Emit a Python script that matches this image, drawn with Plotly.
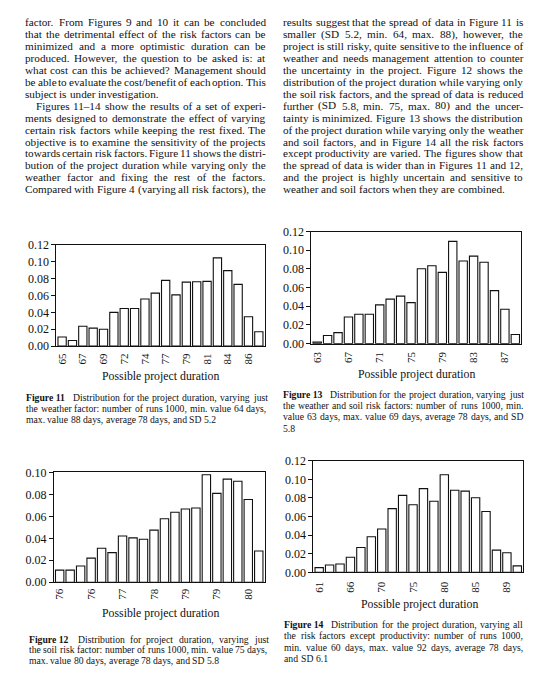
import plotly.graph_objects as go

W, H = 543, 688

# ---------------- data (read from the page) ----------------
fig11_labels = ["65", "67", "69", "72", "74", "77", "79", "81", "84", "86"]
fig11_values = [0.0108, 0.0066, 0.0236, 0.0213, 0.0200, 0.0400, 0.0445, 0.0445, 0.0557, 0.0627,
                0.0778, 0.0607, 0.0758, 0.0762, 0.0766, 0.1045, 0.0894, 0.0731, 0.0348, 0.0170]

fig12_labels = ["76", "76", "77", "78", "79", "79", "80"]
fig12_values = [0.0110, 0.0110, 0.0148, 0.0220, 0.0309, 0.0270, 0.0421, 0.0404, 0.0392, 0.0475,
                0.0579, 0.0638, 0.0668, 0.0677, 0.0980, 0.0810, 0.0940, 0.0920, 0.0754, 0.0285]

fig13_labels = ["63", "67", "71", "75", "79", "83", "87"]
fig13_values = [0.0017, 0.0087, 0.0118, 0.0286, 0.0314, 0.0314, 0.0415, 0.0477, 0.0509, 0.0439,
                0.0801, 0.0833, 0.0763, 0.1094, 0.0885, 0.0937, 0.0871, 0.0568, 0.0369, 0.0098]

fig14_labels = ["61", "66", "70", "75", "80", "85", "89"]
fig14_values = [0.0052, 0.0080, 0.0090, 0.0163, 0.0268, 0.0383, 0.0466, 0.0685, 0.0828, 0.0727,
                0.0900, 0.0765, 0.1050, 0.0883, 0.0873, 0.0803, 0.0654, 0.0240, 0.0212, 0.0070]

axis_title = "Possible project duration"

left_column = [
    "factor. From Figures 9 and 10 it can be concluded",
    "that the detrimental effect of the risk factors can be",
    "minimized and a more optimistic duration can be",
    "produced. However, the question to be asked is: at",
    "what cost can this be achieved? Management should",
    "be able to evaluate the cost/benefit of each option. This",
    "subject is under investigation.",
    "Figures 11\u201314 show the results of a set of experi-",
    "ments designed to demonstrate the effect of varying",
    "certain risk factors while keeping the rest fixed. The",
    "objective is to examine the sensitivity of the projects",
    "towards certain risk factors. Figure 11 shows the distri-",
    "bution of the project duration while varying only the",
    "weather factor and fixing the rest of the factors.",
    "Compared with Figure 4 (varying all risk factors), the",
]
right_column = [
    "results suggest that the spread of data in Figure 11 is",
    "smaller (SD 5.2, min. 64, max. 88), however, the",
    "project is still risky, quite sensitive to the influence of",
    "weather and needs management attention to counter",
    "the uncertainty in the project. Figure 12 shows the",
    "distribution of the project duration while varying only",
    "the soil risk factors, and the spread of data is reduced",
    "further (SD 5.8, min. 75, max. 80) and the uncer-",
    "tainty is minimized. Figure 13 shows the distribution",
    "of the project duration while varying only the weather",
    "and soil factors, and in Figure 14 all the risk factors",
    "except productivity are varied. The figures show that",
    "the spread of data is wider than in Figures 11 and 12,",
    "and the project is highly uncertain and sensitive to",
    "weather and soil factors when they are combined.",
]

caption11 = ["Figure 11", "Distribution for the project duration, varying just",
             "the weather factor: number of runs 1000, min. value 64 days,",
             "max. value 88 days, average 78 days, and SD 5.2"]
caption12 = ["Figure 12", "Distribution for project duration, varying just",
             "the soil risk factor: number of runs 1000, min. value 75 days,",
             "max. value 80 days, average 78 days, and SD 5.8"]
caption13 = ["Figure 13", "Distribution for the project duration, varying just",
             "the weather and soil risk factors: number of runs 1000, min.",
             "value 63 days, max. value 69 days, average 78 days, and SD",
             "5.8"]
caption14 = ["Figure 14", "Distribution for the project duration, varying all",
             "the risk factors except productivity: number of runs 1000,",
             "min. value 60 days, max. value 92 days, average 78 days,",
             "and SD 6.1"]

# ---------------- styling helpers ----------------
SERIF = "Liberation Serif, Times New Roman, Times, serif"
INK = "#111111"

TIMES = {' ': 250, '!': 333, '"': 408, '(': 333, ')': 333, ',': 250, '-': 333, '.': 250, '/': 278,
         ':': 278, ';': 278, '?': 444, '\u2013': 500,
         'A': 722, 'B': 667, 'C': 667, 'D': 722, 'E': 611, 'F': 556, 'G': 722, 'H': 722, 'I': 333,
         'J': 389, 'K': 722, 'L': 611, 'M': 889, 'N': 722, 'O': 722, 'P': 556, 'Q': 722, 'R': 667,
         'S': 556, 'T': 611, 'U': 722, 'V': 722, 'W': 944, 'X': 722, 'Y': 722, 'Z': 611,
         'a': 444, 'b': 500, 'c': 444, 'd': 500, 'e': 444, 'f': 333, 'g': 500, 'h': 500, 'i': 278,
         'j': 278, 'k': 500, 'l': 278, 'm': 778, 'n': 500, 'o': 500, 'p': 500, 'q': 500, 'r': 333,
         's': 389, 't': 278, 'u': 500, 'v': 500, 'w': 722, 'x': 500, 'y': 500, 'z': 444}
TIMES_BOLD = {' ': 250, 'F': 611, 'i': 278, 'g': 500, 'u': 556, 'r': 444, 'e': 444}


def text_width(s, size, bold=False):
    tot = 0
    for ch in s:
        if bold and ch in TIMES_BOLD:
            tot += TIMES_BOLD[ch]
        else:
            tot += TIMES.get(ch, 500)
    return tot * size / 1000.0


annotations = []


def add_word(txt, x, y, size):
    annotations.append(dict(text=txt, x=x / W, y=1 - y / H, xref="paper", yref="paper",
                            xanchor="left", yanchor="middle", showarrow=False, borderpad=0,
                            font=dict(family=SERIF, size=size, color=INK)))


def place_line(line, x0, x1, y, size, justify=True, bold_head=None, head_gap=0.0):
    tokens = []
    if bold_head:
        tokens.append(("<b>" + bold_head + "</b>", text_width(bold_head, size, True) + head_gap))
    for w in line.split(" "):
        tokens.append((w, text_width(w, size)))
    total = sum(t[1] for t in tokens)
    if justify and len(tokens) > 1:
        gap = (x1 - x0 - total) / (len(tokens) - 1)
    else:
        gap = size * 0.25
    x = x0
    for txt, wd in tokens:
        add_word(txt, x, y, size)
        x += wd + gap


def place_paragraphs(lines, x0, x1, y0, dy, size, indent_lines=(), last_lines=()):
    for i, ln in enumerate(lines):
        xs = x0 + (11 if i in indent_lines else 0)
        place_line(ln, xs, x1, y0 + i * dy, size, justify=(i not in last_lines))


def place_caption(cap, x0, x1, y0, dy, size):
    head, rest = cap[0], cap[1:]
    n = len(rest)
    for i, ln in enumerate(rest):
        last = (i == n - 1)
        if i == 0:
            place_line(ln, x0, x1, y0, size, justify=True, bold_head=head, head_gap=4)
        else:
            place_line(ln, x0, x1, y0 + i * dy, size, justify=not last)


# body text
place_paragraphs(left_column, 15, 256, 7.5, 12.17, 11.2, indent_lines=(7,), last_lines=(6,))
place_paragraphs(right_column, 273.5, 514, 7.5, 12.17, 11.2, last_lines=(14,))

# captions
CAP = 9.7
place_caption(caption11, 16, 257, 390, 11.6, CAP)
place_caption(caption13, 273.5, 514, 387, 11.6, CAP)
place_caption(caption12, 19, 258, 637, 11.0, CAP)
place_caption(caption14, 275, 514, 622, 11.6, CAP)

# ---------------- charts ----------------
panels = [
    dict(values=fig11_values, labels=fig11_labels, step=2, ymax=0.12,
         box=(47.5, 256, 234.5, 338), title=(152, 369), standoff=2),
    dict(values=fig13_values, labels=fig13_labels, step=3, ymax=0.12,
         box=(303, 513, 221, 335.5), title=(408, 366.5), standoff=3),
    dict(values=fig12_values, labels=fig12_labels, step=3, ymax=0.10,
         box=(45, 256, 467, 579), title=(152, 610), standoff=1),
    dict(values=fig14_values, labels=fig14_labels, step=3, ymax=0.12,
         box=(305, 515, 455, 569), title=(411, 601), standoff=4),
]

fig = go.Figure()
layout_axes = {}
for i, p in enumerate(panels):
    n = len(p["values"])
    bins = list(range(1, n + 1))
    xa = "x" if i == 0 else f"x{i + 1}"
    ya = "y" if i == 0 else f"y{i + 1}"
    fig.add_trace(go.Bar(x=bins, y=p["values"], xaxis=xa, yaxis=ya,
                         marker=dict(color="white", line=dict(color=INK, width=1.1)),
                         showlegend=False, hoverinfo="skip"))
    l, r, t, b = p["box"]
    xkey = "xaxis" if i == 0 else f"xaxis{i + 1}"
    ykey = "yaxis" if i == 0 else f"yaxis{i + 1}"
    layout_axes[xkey] = dict(domain=[l / W, r / W], anchor=ya, range=[0.45, n + 0.55],
                             tickvals=bins[::p["step"]], ticktext=p["labels"], tickangle=-90,
                             ticks="", ticklabelstandoff=p["standoff"],
                             showline=True, mirror=True, linecolor=INK, linewidth=1.1,
                             showgrid=False, zeroline=False,
                             tickfont=dict(family=SERIF, size=11, color=INK))
    layout_axes[ykey] = dict(domain=[1 - b / H, 1 - t / H], anchor=xa, range=[0, p["ymax"]],
                             dtick=0.02, tick0=0, tickformat=".2f", ticks="outside", ticklen=4,
                             tickwidth=1, tickcolor=INK,
                             showline=True, mirror=True, linecolor=INK, linewidth=1.1,
                             showgrid=False, zeroline=False,
                             tickfont=dict(family=SERIF, size=12, color=INK))
    tx, ty = p["title"]
    annotations.append(dict(text=axis_title, x=tx / W, y=1 - ty / H, xref="paper", yref="paper",
                            xanchor="center", yanchor="middle", showarrow=False,
                            font=dict(family=SERIF, size=11.8, color=INK)))

fig.update_layout(width=W, height=H, margin=dict(l=0, r=0, t=0, b=0),
                  paper_bgcolor="white", plot_bgcolor="white", bargap=0.2,
                  annotations=annotations, **layout_axes)

fig.write_html("out.html")
